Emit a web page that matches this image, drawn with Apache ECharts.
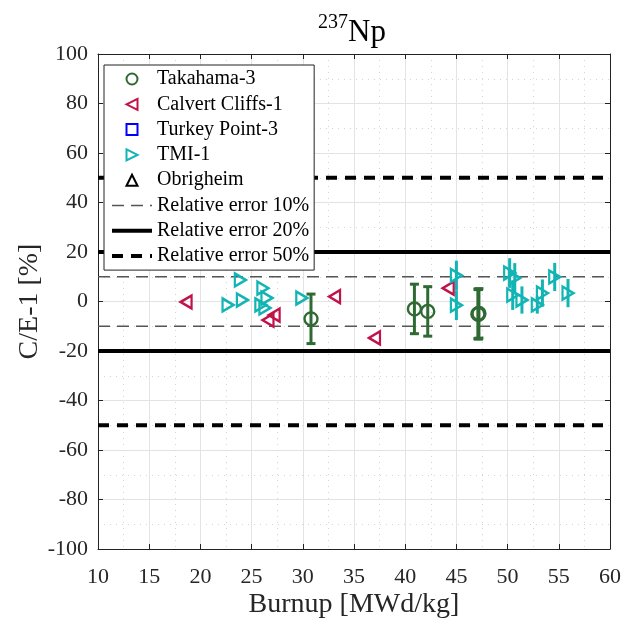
<!DOCTYPE html>
<html>
<head>
<meta charset="utf-8">
<script src="https://cdn.jsdelivr.net/npm/echarts@6/dist/echarts.min.js"></script>
<style>html,body{margin:0;padding:0;background:#fff}#c{width:629px;height:625px}</style>
</head>
<body>
<div id="c"></div>
<script>
// ---- data ----
const xTicks = [10, 15, 20, 25, 30, 35, 40, 45, 50, 55, 60];
const yTicks = [-100, -80, -60, -40, -20, 0, 20, 40, 60, 80, 100];

const takahamaX = [30.8, 40.9, 42.2, 47.1, 47.2, 47.15];
const takahamaY = [-7.0, -3.0, -4.0, -5.0, -4.8, -5.2];
const takahamaErr = [10, 10, 10, 10, 10, 10];

const calvertX = [18.6, 26.6, 27.2, 33.1, 37.0, 44.2];
const calvertY = [-0.2, -7.5, -5.5, 2.0, -14.7, 5.4];

const turkeyX = [];
const turkeyY = [];

const tmiX = [22.7, 23.9, 24.1, 25.9, 26.1, 26.3, 26.5, 29.9, 45.0, 45.0, 50.2, 50.7, 50.5, 51.4, 52.9, 53.4, 54.6, 55.9];
const tmiY = [-1.4, 8.7, 0.6, -1.4, 5.4, -2.6, 1.4, 1.4, 10.5, -1.5, 11.5, 9.5, 2.6, 0.6, -1.4, 3.4, 9.9, 3.4];
const tmiErr = [0, 0, 0, 0, 0, 0, 0, 0, 6, 6, 6, 6, 6, 5.5, 3.5, 5.5, 5.7, 5.7];

const obrigheimX = [];
const obrigheimY = [];

const refLevels10 = [10, -10];
const refLevels20 = [20, -20];
const refLevels50 = [50, -50];

// ---- build ----
const FONT = '"Liberation Serif", "DejaVu Serif", serif';
const cGreen = '#2f6a33', cRed = '#c2124a', cBlue = '#0000ff', cCyan = '#12b4b4', cBlack = '#000000';
const leftTri = 'path://M0,5L10,0L10,10Z';
const rightTri = 'path://M10,5L0,0L0,10Z';
const upTri = 'path://M5,0L10,10L0,10Z';
const square = 'path://M0,0L10,0L10,10L0,10Z';

function pts(xs, ys, es) { return xs.map((x, i) => es ? [x, ys[i], es[i]] : [x, ys[i]]); }

function errSeries(data, color, capW, lw) {
  return {
    type: 'custom', silent: true, z: 3,
    data: data.filter(d => d[2] > 0),
    renderItem: function (params, api) {
      const x = api.value(0), y = api.value(1), e = api.value(2);
      const t = api.coord([x, y + e]), b = api.coord([x, y - e]);
      const st = { stroke: color, lineWidth: lw };
      const ch = [{ type: 'line', shape: { x1: t[0], y1: t[1], x2: b[0], y2: b[1] }, style: st }];
      if (capW > 0) {
        ch.push({ type: 'line', shape: { x1: t[0] - capW, y1: t[1], x2: t[0] + capW, y2: t[1] }, style: st });
        ch.push({ type: 'line', shape: { x1: b[0] - capW, y1: b[1], x2: b[0] + capW, y2: b[1] }, style: st });
      }
      return { type: 'group', children: ch };
    }
  };
}

function refLine(name, level, style) {
  return {
    name: name, type: 'line', symbol: 'none', silent: true, z: 2,
    data: [[10, level], [60, level]],
    lineStyle: style, itemStyle: { color: 'rgba(0,0,0,0)' }
  };
}

const style10 = { color: '#555555', width: 1.3, type: [12, 7] };
const style20 = { color: cBlack, width: 4, type: 'solid' };
const style50 = { color: cBlack, width: 4, type: [11, 8] };

const series = [];
refLevels10.forEach(l => series.push(refLine('Relative error 10%', l, style10)));
refLevels20.forEach(l => series.push(refLine('Relative error 20%', l, style20)));
refLevels50.forEach(l => series.push(refLine('Relative error 50%', l, style50)));

series.push(errSeries(pts(takahamaX, takahamaY, takahamaErr), cGreen, 4.5, 3));
series.push(errSeries(pts(tmiX, tmiY, tmiErr), cCyan, 0, 3));

function scat(name, data, symbol, size, color) {
  return {
    name: name, type: 'scatter', symbol: symbol, symbolSize: size, z: 5,
    data: data,
    itemStyle: { color: 'rgba(0,0,0,0)', borderColor: color, borderWidth: 2.4, opacity: 1 }
  };
}
series.push(scat('Takahama-3', pts(takahamaX, takahamaY), 'circle', 13, cGreen));
series.push(scat('Calvert Cliffs-1', pts(calvertX, calvertY), leftTri, [11, 13], cRed));
series.push(scat('Turkey Point-3', pts(turkeyX, turkeyY), square, 10, cBlue));
series.push(scat('TMI-1', pts(tmiX, tmiY), rightTri, [11, 13], cCyan));
series.push(scat('Obrigheim', pts(obrigheimX, obrigheimY), upTri, 11, cBlack));

const hollow = c => ({ color: 'rgba(0,0,0,0)', borderColor: c, borderWidth: 2 });
const noSym = { color: 'rgba(0,0,0,0)', borderColor: 'rgba(0,0,0,0)', borderWidth: 0 };

const gridLine = { show: true, lineStyle: { color: '#e3e3e3', width: 1 } };
const minorLine = { show: true, lineStyle: { color: '#d4d4d4', width: 1, type: [1, 5] } };
const axLine = { show: true, onZero: false, lineStyle: { color: '#222', width: 1 } };
const tick = { show: true, inside: true, length: 5, lineStyle: { color: '#222' } };
const lab = { fontFamily: FONT, fontSize: 22, color: '#262626' };

const option = {
  animation: false,
  backgroundColor: '#fff',
  grid: { left: 98, right: 19, top: 54, bottom: 76 },
  graphic: [
    { type: 'text', left: 318, top: 13, style: { text: '237', font: '20px ' + FONT, fill: '#000' } },
    { type: 'text', left: 348, top: 17, style: { text: 'Np', font: '31px ' + FONT, fill: '#000' } }
  ],
  legend: {
    left: 104, top: 65, orient: 'vertical',
    padding: [4, 5, 4, 6],
    itemWidth: 40, itemHeight: 11, itemGap: 5.3,
    backgroundColor: '#fff', borderColor: '#222', borderWidth: 1,
    textStyle: { fontFamily: FONT, fontSize: 20, color: '#000', lineHeight: 20 },
    lineStyle: { width: 'inherit', type: 'inherit' },
    selectedMode: false,
    data: [
      { name: 'Takahama-3', icon: 'circle', itemStyle: hollow(cGreen) },
      { name: 'Calvert Cliffs-1', icon: leftTri, itemStyle: hollow(cRed) },
      { name: 'Turkey Point-3', icon: square, itemStyle: hollow(cBlue) },
      { name: 'TMI-1', icon: rightTri, itemStyle: hollow(cCyan) },
      { name: 'Obrigheim', icon: upTri, itemStyle: hollow(cBlack) },
      { name: 'Relative error 10%', itemStyle: noSym },
      { name: 'Relative error 20%', itemStyle: noSym },
      { name: 'Relative error 50%', itemStyle: noSym }
    ]
  },
  xAxis: [
    {
      type: 'value', min: xTicks[0], max: xTicks[xTicks.length - 1], interval: 5, position: 'bottom',
      name: 'Burnup [MWd/kg]', nameLocation: 'middle', nameGap: 42, nameMoveOverlap: false,
      nameTextStyle: { fontFamily: FONT, fontSize: 28, color: '#262626' },
      axisLine: axLine, axisTick: tick,
      axisLabel: Object.assign({ margin: 17 }, lab),
      splitLine: gridLine, minorTick: { show: false, splitNumber: 2 }, minorSplitLine: minorLine
    },
    {
      type: 'value', min: xTicks[0], max: xTicks[xTicks.length - 1], interval: 5, position: 'top',
      axisLine: axLine, axisTick: tick, axisLabel: { show: false }, splitLine: { show: false }
    }
  ],
  yAxis: [
    {
      type: 'value', min: yTicks[0], max: yTicks[yTicks.length - 1], interval: 20, position: 'left',
      name: 'C/E-1 [%]', nameLocation: 'middle', nameGap: 54, nameRotate: 90, nameMoveOverlap: false,
      nameTextStyle: { fontFamily: FONT, fontSize: 28, color: '#262626' },
      axisLine: axLine, axisTick: tick,
      axisLabel: Object.assign({ margin: 10 }, lab),
      splitLine: gridLine, minorTick: { show: false, splitNumber: 2 }, minorSplitLine: minorLine
    },
    {
      type: 'value', min: yTicks[0], max: yTicks[yTicks.length - 1], interval: 20, position: 'right',
      axisLine: axLine, axisTick: tick, axisLabel: { show: false }, splitLine: { show: false }
    }
  ],
  series: series
};

const chart = echarts.init(document.getElementById('c'), null, { renderer: 'canvas' });
chart.setOption(option);
</script>
</body>
</html>
